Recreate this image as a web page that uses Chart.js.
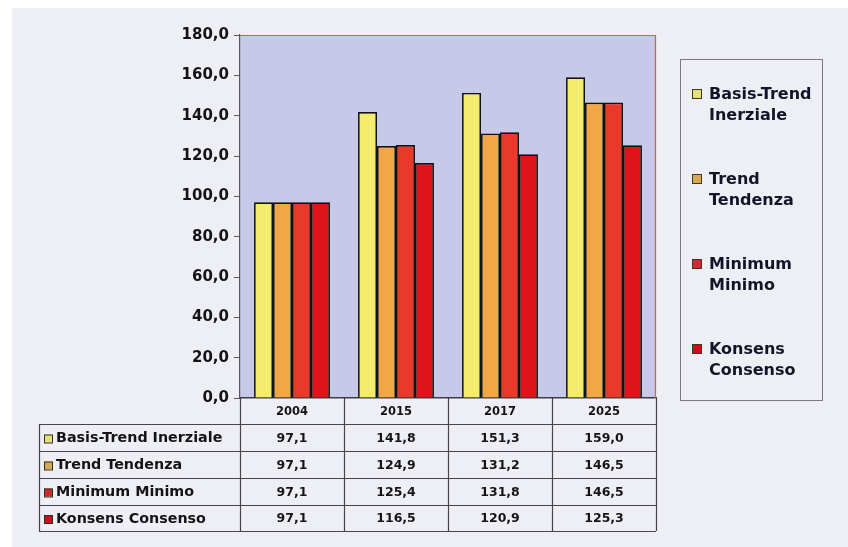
<!DOCTYPE html>
<html>
<head>
<meta charset="utf-8">
<script src="https://cdn.jsdelivr.net/npm/chart.js@4.4.1/dist/chart.umd.min.js"></script>
<style>
    html, body { margin: 0; padding: 0; background: #ffffff; }
    #wrap { position: relative; width: 848px; height: 547px; overflow: hidden; }
    #bg { position: absolute; left: 12px; top: 8px; right: 0; bottom: 0; background: #eeeff5; }
    #chart { position: absolute; left: 0; top: 0; }
    #legend {
        position: absolute; left: 680px; top: 59px; width: 143px; height: 342px;
        border: 1px solid #7a7a80; box-sizing: border-box;
        font-family: "DejaVu Sans", sans-serif; font-weight: bold;
        font-size: 16px; color: #141428;
    }
    .item { position: absolute; left: 28px; line-height: 21px; white-space: nowrap; }
    .sw { position: absolute; left: -17px; top: 6px; width: 8px; height: 8px; border: 1px solid #3a3a20; }
</style>
</head>
<body>
<div id="wrap">
    <div id="bg"></div>
    <canvas id="chart" width="848" height="547"></canvas>
    <div id="legend"></div>
</div>
<script>
// Données du graphique
const years = ['2004', '2015', '2017', '2025'];
const seriesNames = ['Basis-Trend Inerziale', 'Trend Tendenza', 'Minimum Minimo', 'Konsens Consenso'];
const legendLines = [['Basis-Trend', 'Inerziale'], ['Trend', 'Tendenza'], ['Minimum', 'Minimo'], ['Konsens', 'Consenso']];
const basisTrend = [97.1, 141.8, 151.3, 159.0];
const trendTendenza = [97.1, 124.9, 131.2, 146.5];
const minimumMinimo = [97.1, 125.4, 131.8, 146.5];
const konsensConsenso = [97.1, 116.5, 120.9, 125.3];
const yTicks = [0, 20, 40, 60, 80, 100, 120, 140, 160, 180];

const colors = ['#f6ec6c', '#f0a744', '#e8392b', '#e0121a'];
const swatchColors = ['#e6e07a', '#d8a850', '#d02a30', '#cc1020'];
const FONT = '"DejaVu Sans", sans-serif';

function fmt(v) {
    return v.toFixed(1).replace('.', ',');
}

// Fond de la zone de tracé + bordure rouge
const plotBg = {
    id: 'plotBg',
    beforeDraw(chart) {
        const { ctx, chartArea: a } = chart;
        ctx.save();
        ctx.fillStyle = '#c7c9e8';
        ctx.fillRect(a.left, a.top, a.right - a.left, a.bottom - a.top);
        ctx.restore();
    },
    afterDatasetsDraw(chart) {
        const { ctx, chartArea: a } = chart;
        ctx.save();
        ctx.strokeStyle = '#d85a5a';
        ctx.lineWidth = 1.2;
        ctx.beginPath();
        ctx.moveTo(a.left, a.top + 0.5);
        ctx.lineTo(a.right - 0.5, a.top + 0.5);
        ctx.lineTo(a.right - 0.5, a.bottom);
        ctx.stroke();
        ctx.restore();
    }
};

// Table de données sous le graphique
const dataTable = {
    id: 'dataTable',
    afterDraw(chart) {
        const { ctx, chartArea: a } = chart;
        const x = chart.scales.x;
        const left = 39;
        const headTop = a.bottom;
        const rowTops = [424, 451, 478, 505, 531];
        const step = (a.right - a.left) / years.length;

        ctx.save();
        ctx.strokeStyle = '#45454a';
        ctx.lineWidth = 1.2;
        ctx.beginPath();
        rowTops.forEach(y => {
            ctx.moveTo(left, y + 0.5);
            ctx.lineTo(a.right, y + 0.5);
        });
        ctx.moveTo(left + 0.5, rowTops[0]);
        ctx.lineTo(left + 0.5, rowTops[4]);
        for (let i = 0; i <= years.length; i++) {
            const cx = Math.round(a.left + i * step) + 0.5;
            ctx.moveTo(cx, headTop);
            ctx.lineTo(cx, rowTops[4]);
        }
        ctx.stroke();

        ctx.fillStyle = '#141418';
        ctx.textAlign = 'center';
        ctx.textBaseline = 'middle';
        ctx.font = 'bold 11.5px ' + FONT;
        years.forEach((yr, i) => {
            ctx.fillText(yr, x.getPixelForValue(i), (headTop + rowTops[0]) / 2 + 1);
        });

        chart.data.datasets.forEach((ds, r) => {
            const cy = (rowTops[r] + rowTops[r + 1]) / 2 + 1;
            // pastille
            ctx.fillStyle = swatchColors[r];
            ctx.fillRect(44, cy - 4, 8, 8);
            ctx.strokeStyle = '#30301a';
            ctx.lineWidth = 1;
            ctx.strokeRect(44.5, cy - 3.5, 8, 8);
            ctx.fillStyle = '#141418';
            ctx.textAlign = 'left';
            ctx.font = 'bold 14.3px ' + FONT;
            ctx.fillText(ds.label, 56, cy);
            ctx.textAlign = 'center';
            ctx.font = 'bold 12.5px ' + FONT;
            ds.data.forEach((v, i) => {
                ctx.fillText(fmt(v), x.getPixelForValue(i), cy);
            });
        });
        ctx.restore();
    }
};

const ctx = document.getElementById('chart').getContext('2d');
const chart = new Chart(ctx, {
    type: 'bar',
    data: {
        labels: years,
        datasets: [basisTrend, trendTendenza, minimumMinimo, konsensConsenso].map((d, i) => ({
            label: seriesNames[i],
            data: d,
            backgroundColor: colors[i],
            borderColor: '#111111',
            borderWidth: 1.7,
            borderSkipped: 'bottom',
            barPercentage: 1.0,
            categoryPercentage: 0.73
        }))
    },
    options: {
        responsive: false,
        animation: false,
        layout: { padding: { left: 0, top: 35, right: 192, bottom: 0 } },
        plugins: {
            legend: { display: false },
            tooltip: { enabled: false }
        },
        scales: {
            x: {
                ticks: { display: false },
                grid: { display: false, drawTicks: false },
                border: { display: true, color: '#3c3c40', width: 1.5 },
                afterFit(scale) { scale.height = 547 - 398; }
            },
            y: {
                min: 0,
                max: 180,
                afterBuildTicks(scale) { scale.ticks = yTicks.map(v => ({ value: v })); },
                ticks: {
                    callback: v => fmt(v),
                    color: '#141418',
                    padding: 5,
                    font: { family: FONT, weight: 'bold', size: 15 }
                },
                grid: { drawOnChartArea: false, drawTicks: true, tickLength: 6, color: '#55555a' },
                border: { display: true, color: '#55555a', width: 1.2 },
                afterFit(scale) { scale.width = 240; }
            }
        }
    },
    plugins: [plotBg, dataTable]
});

// Légende HTML
const legend = document.getElementById('legend');
legendLines.forEach((lines, i) => {
    const item = document.createElement('div');
    item.className = 'item';
    item.style.top = (23 + i * 85) + 'px';
    item.innerHTML = `<span class="sw" style="background:${swatchColors[i]}"></span>${lines[0]}<br>${lines[1]}`;
    legend.appendChild(item);
});
</script>
</body>
</html>
